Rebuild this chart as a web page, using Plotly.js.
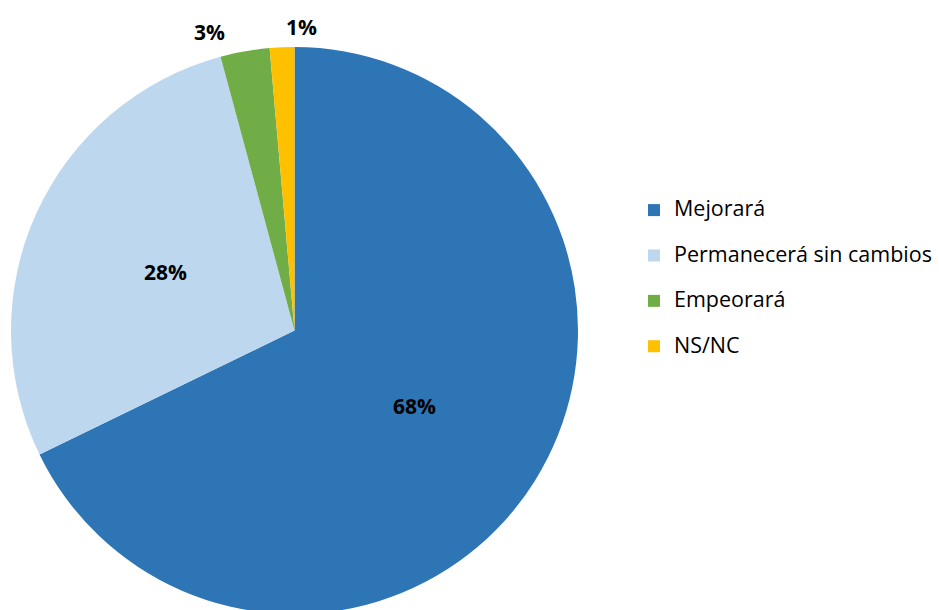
<!DOCTYPE html>
<html>
<head>
<meta charset="utf-8">
<script src="https://cdn.plot.ly/plotly-3.0.1.min.js"></script>
<style>
html,body{margin:0;padding:0;background:#fff;overflow:hidden;}
#chart{width:939px;height:620px;}
</style>
</head>
<body>
<div id="chart"></div>
<script>
// Data
var categories = ["Mejorará", "Permanecerá sin cambios", "Empeorará", "NS/NC"];
var shares = [67.8, 28.0, 2.8, 1.4];
var sliceColors = ["#2E75B6", "#BDD7EE", "#70AD47", "#FFC000"];

var W = 939, H = 620;
var pieLeft = 11, pieRight = 578, pieTop = 47, pieBottom = 614;
var cx = (pieLeft + pieRight) / 2, cy = (pieTop + pieBottom) / 2, R = (pieRight - pieLeft) / 2;

// legend labels: larger visible text, two-line item for wider spacing
var legendLabels = categories.map(function (c) {
  return "<span style='font-size:21.5px'>" + c + "</span><br>\u00a0";
});

var total = shares.reduce(function (a, b) { return a + b; }, 0);
var isSmall = shares.map(function (v) { return v / total < 0.05; });

var labelFont = { family: "Open Sans", size: 21, color: "#000000", weight: "bold" };

var trace = {
  type: "pie",
  labels: legendLabels,
  values: shares,
  sort: false,
  direction: "clockwise",
  rotation: 0,
  marker: { colors: sliceColors, line: { width: 0 } },
  textinfo: "none",
  hoverinfo: "none",
  domain: { x: [pieLeft / W, pieRight / W], y: [1 - pieBottom / H, 1 - pieTop / H] }
};

// percentage labels placed along each slice's mid-angle
// (inside at half radius, thin slices just outside the rim)
var nudges = { 2: -32, 3: 20 };
var annotations = [];
var cum = 0;
shares.forEach(function (v, i) {
  var frac = v / total;
  var mid = (cum + frac / 2) * 2 * Math.PI;
  cum += frac;
  var r = isSmall[i] ? R + 20 : R * 0.5;
  var px = cx + Math.sin(mid) * r;
  var py = cy - Math.cos(mid) * r;
  annotations.push({
    xref: "paper", yref: "paper",
    x: px / W, y: 1 - py / H,
    xanchor: "center", yanchor: "middle",
    xshift: nudges[i] || 0,
    showarrow: false,
    text: Math.round(frac * 100) + "%",
    font: labelFont
  });
});

var layout = {
  width: W,
  height: H,
  margin: { l: 0, r: 0, t: 0, b: 0 },
  paper_bgcolor: "#ffffff",
  showlegend: true,
  legend: {
    x: 634 / W,
    xanchor: "left",
    y: 1 - 289 / H,
    yanchor: "middle",
    valign: "top",
    font: { family: "Open Sans", size: 16.3, color: "#000000" },
    bgcolor: "rgba(0,0,0,0)"
  },
  annotations: annotations,
  font: { family: "Open Sans" }
};

Plotly.newPlot("chart", [trace], layout, { displayModeBar: false, staticPlot: true });
</script>
</body>
</html>
